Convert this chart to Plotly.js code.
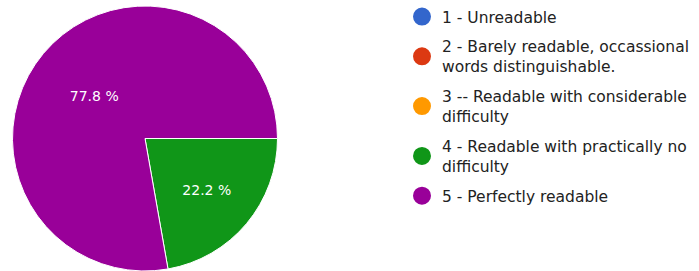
<!DOCTYPE html>
<html>
<head>
<meta charset="utf-8">
<script src="https://cdn.plot.ly/plotly-3.0.1.min.js"></script>
<style>html,body{margin:0;padding:0;background:#fff;}</style>
</head>
<body>
<div id="chart" style="width:699px;height:271px;"></div>
<script>
const categories = [
  "1 - Unreadable",
  "2 - Barely readable, occassional<br>words distinguishable.",
  "3 -- Readable with considerable<br>difficulty",
  "4 - Readable with practically no<br>difficulty",
  "5 - Perfectly readable"
];
const counts = [0, 0, 0, 2, 7];
const colors = ["#3366cc", "#dc3912", "#ff9900", "#109618", "#990099"];

const total = counts.reduce((a, b) => a + b, 0);
const labelText = counts.map(v => (v / total * 100).toFixed(1) + " %");

const traces = [{
  type: "pie",
  labels: categories,
  values: counts,
  text: labelText,
  textinfo: "text",
  textposition: "inside",
  insidetextorientation: "horizontal",
  sort: false,
  direction: "clockwise",
  rotation: 90,
  marker: { colors: colors, line: { color: "#ffffff", width: 1 } },
  textfont: { family: "DejaVu Sans", size: 14, color: "#ffffff" },
  domain: { x: [0, 290 / 699], y: [0, 265 / 271] },
  showlegend: false,
  hoverinfo: "label+percent"
}];

categories.forEach((c, i) => {
  traces.push({
    type: "scatter",
    mode: "markers",
    x: [null], y: [null],
    name: c,
    legendgroup: "g" + i,
    marker: { color: colors[i], size: 16, symbol: "circle", line: { color: colors[i], width: 2 } },
    showlegend: true,
    hoverinfo: "skip"
  });
});

const layout = {
  width: 699,
  height: 271,
  margin: { l: 0, r: 0, t: 0, b: 0 },
  paper_bgcolor: "#ffffff",
  plot_bgcolor: "#ffffff",
  xaxis: { visible: false },
  yaxis: { visible: false },
  showlegend: true,
  legend: {
    x: 402 / 699, xanchor: "left",
    y: 1.0, yanchor: "top",
    font: { family: "DejaVu Sans", size: 15.5, color: "#222222" },
    itemsizing: "trace",
    tracegroupgap: 6.5,
    maxheight: 1,
    bgcolor: "rgba(0,0,0,0)"
  }
};

Plotly.newPlot("chart", traces, layout, { displayModeBar: false, staticPlot: true });
</script>
</body>
</html>
